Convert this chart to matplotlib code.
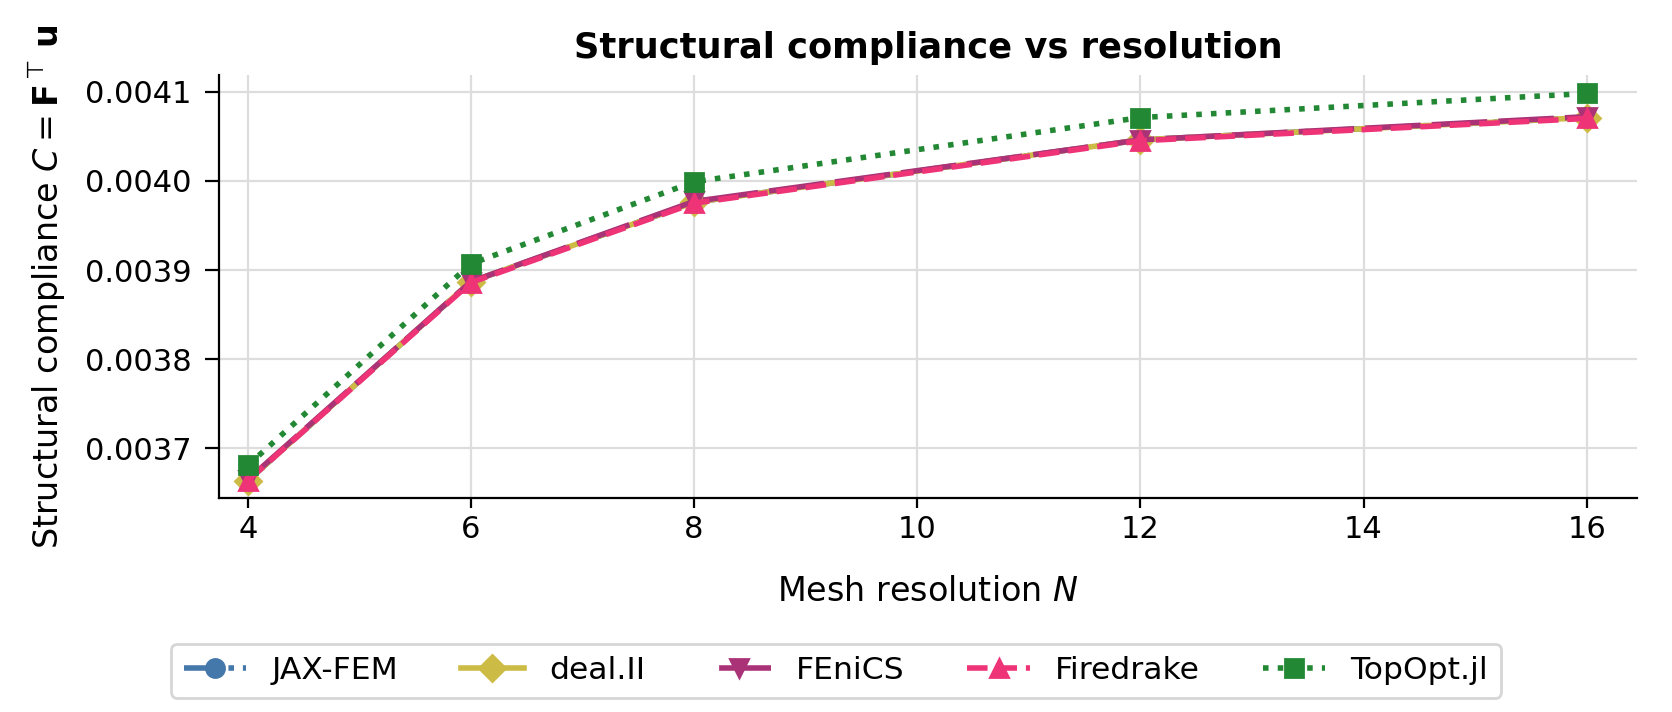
import matplotlib
matplotlib.use("Agg")
import matplotlib.pyplot as plt

N = [4, 6, 8, 12, 16]
jaxfem = [0.003664, 0.003887, 0.003976, 0.004046, 0.004071]
dealii = [0.003664, 0.003887, 0.003976, 0.004046, 0.004071]
fenics = [0.003665, 0.003887, 0.003977, 0.004046, 0.004072]
firedrake = [0.003664, 0.003886, 0.003975, 0.004045, 0.004070]
topopt = [0.003681, 0.003907, 0.003999, 0.004071, 0.004098]

series = [
    ("JAX-FEM", jaxfem, "#4477AA", "o", "-."),
    ("deal.II", dealii, "#CCBB44", "D", "-"),
    ("FEniCS", fenics, "#AA3377", "v", (10, (10, 2))),
    ("Firedrake", firedrake, "#EE3377", "^", "--"),
    ("TopOpt.jl", topopt, "#228833", "s", ":"),
]

fig = plt.figure(figsize=(8.36, 3.56), dpi=200)
ax = fig.add_axes([0.131, 0.300, 0.848, 0.595])
for label, vals, color, marker, ls in series:
    ax.plot(N, vals, linestyle=ls, color=color, marker=marker, markersize=6.5,
            linewidth=2.0, label=label)

ax.set_xlim(3.742, 16.45)
ax.set_ylim(0.003644, 0.004119)
ax.set_xticks([4, 6, 8, 10, 12, 14, 16])
ax.set_yticks([0.0037, 0.0038, 0.0039, 0.0040, 0.0041])
ax.yaxis.set_major_formatter(matplotlib.ticker.FormatStrFormatter('%.4f'))
ax.grid(True, color="#dddddd", linewidth=0.8)
ax.set_axisbelow(True)
ax.spines["top"].set_visible(False)
ax.spines["right"].set_visible(False)
ax.tick_params(axis="y", labelsize=11, length=5, pad=5)
ax.tick_params(axis="x", labelsize=11, length=3.5, pad=2.5)
ax.set_xlabel("Mesh resolution $N$", fontsize=12, labelpad=11)
ax.set_ylabel(r"Structural compliance $C = \mathbf{F}^\top\,\mathbf{u}$", fontsize=12, labelpad=6)
ax.set_title("Structural compliance vs resolution", fontsize=12.7, fontweight="bold")
leg = fig.legend(loc="center", bbox_to_anchor=(0.5, 0.058), ncol=5, fontsize=11.3,
                 frameon=True, handlelength=2.0, columnspacing=2.0, handletextpad=0.8)
leg.get_frame().set_edgecolor("#cccccc")
fig.savefig("out.png", dpi=200)
